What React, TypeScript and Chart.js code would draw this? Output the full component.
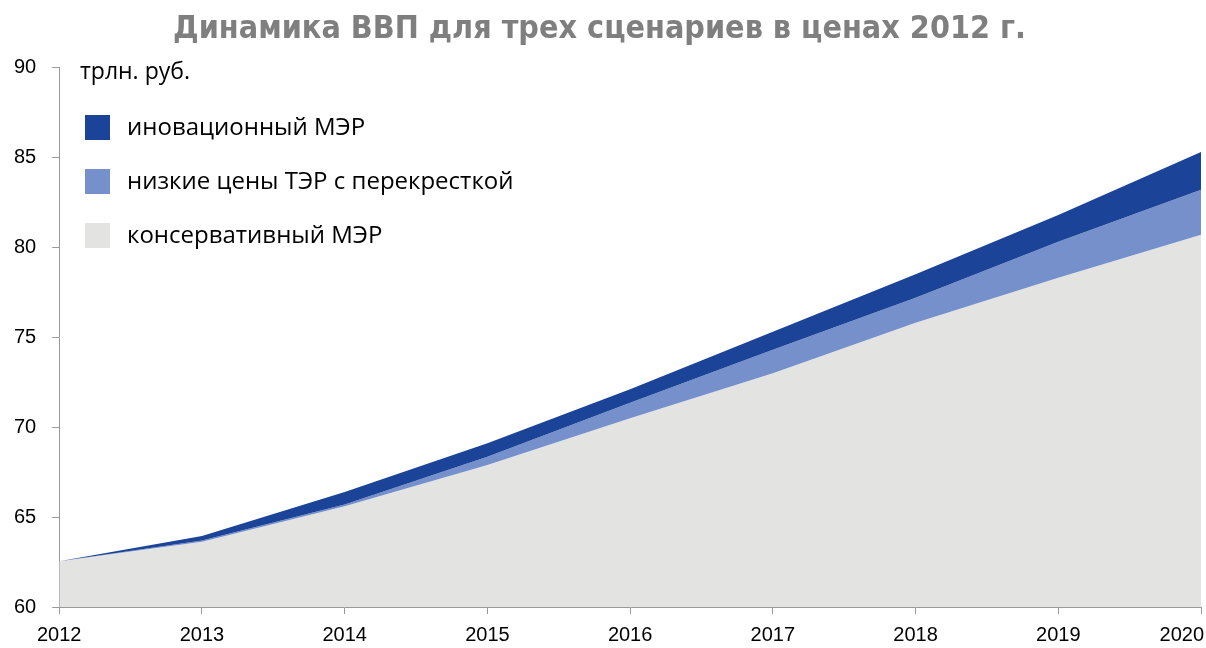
import React, { useEffect, useRef } from "react";
import { Chart, registerables } from "chart.js";

Chart.register(...registerables);

const years = ["2012", "2013", "2014", "2015", "2016", "2017", "2018", "2019", "2020"];
const innovative = [62.55, 63.95, 66.4, 69.1, 72.1, 75.3, 78.5, 81.8, 85.3];
const lowPrices = [62.55, 63.7, 65.7, 68.35, 71.35, 74.3, 77.2, 80.3, 83.2];
const conservative = [62.55, 63.63, 65.6, 67.9, 70.5, 73.0, 75.8, 78.3, 80.7];

const seriesNames = ["иновационный МЭР", "низкие цены ТЭР с перекресткой", "консервативный МЭР"];
const seriesColors = ["#1B4397", "#7590CB", "#E3E3E1"];
const unitLabel = "трлн. руб.";
const titleText = "Динамика ВВП для трех сценариев в ценах 2012 г.";

const FONT = "'Liberation Sans', Arial, sans-serif";
const LEGEND_FONT = "'Open Sans', 'Noto Sans', sans-serif";

const legendPlugin = {
  id: "customLegend",
  beforeDraw(chart: any) {
    const x = chart.scales.x;
    const items = x.getLabelItems();
    if (items && items.length) {
      const last = items[items.length - 1];
      last.options.textAlign = "right";
      last.options.translation[0] = chart.width - 2;
    }
  },
  afterDraw(chart: any) {
    const ctx = chart.ctx;
    ctx.save();
    ctx.textBaseline = "middle";
    ctx.textAlign = "left";
    ctx.fillStyle = "#000";
    ctx.font = `23px ${LEGEND_FONT}`;
    ctx.fillText(unitLabel, 80, 72);
    const rows = [127, 181, 235];
    ctx.font = `24px ${LEGEND_FONT}`;
    seriesNames.forEach((name, i) => {
      ctx.fillStyle = seriesColors[i];
      ctx.fillRect(85, rows[i] - 12, 25, 25);
      ctx.fillStyle = "#000";
      ctx.fillText(name, 127, rows[i] + 1);
    });
    ctx.restore();
  },
};

export default function App() {
  const ref = useRef<HTMLCanvasElement>(null);
  useEffect(() => {
    if (!ref.current) return;
    const chart = new Chart(ref.current, {
      type: "line",
      data: {
        labels: years,
        datasets: [
          {
            label: seriesNames[0],
            data: innovative,
            backgroundColor: seriesColors[0],
            borderWidth: 0,
            pointRadius: 0,
            fill: "+1",
            tension: 0,
          },
          {
            label: seriesNames[1],
            data: lowPrices,
            backgroundColor: seriesColors[1],
            borderWidth: 0,
            pointRadius: 0,
            fill: "+1",
            tension: 0,
          },
          {
            label: seriesNames[2],
            data: conservative,
            backgroundColor: seriesColors[2],
            borderWidth: 0,
            pointRadius: 0,
            fill: "start",
            tension: 0,
          },
        ],
      },
      options: {
        responsive: false,
        animation: false,
        layout: { padding: { left: -2, right: 5, top: 0, bottom: -8 } },
        plugins: {
          legend: { display: false },
          tooltip: { enabled: false },
          title: {
            display: true,
            text: titleText,
            color: "#7f7f7f",
            font: { family: "'Liberation Sans Narrow', 'DejaVu Sans Condensed', sans-serif", size: 32, weight: "bold" },
            padding: { top: 10, bottom: 19 },
          },
        },
        scales: {
          x: {
            type: "category",
            offset: false,
            grid: { display: true, drawOnChartArea: false, drawTicks: true, tickLength: 7, color: "#9a9a9a" },
            border: { display: true, color: "#9a9a9a" },
            ticks: { color: "#000", font: { family: FONT, size: 20 }, padding: 9, maxRotation: 0, autoSkip: false },
            afterFit(scale: any) {
              scale.paddingRight = 0;
            },
          },
          y: {
            min: 60,
            max: 90,
            grid: { display: true, drawOnChartArea: false, drawTicks: true, tickLength: 7, color: "#9a9a9a" },
            border: { display: true, color: "#9a9a9a" },
            ticks: { stepSize: 5, color: "#000", font: { family: FONT, size: 20 }, padding: 16 },
          },
        },
      },
      plugins: [legendPlugin],
    });
    return () => chart.destroy();
  }, []);
  return (
    <div style={{ position: "absolute", left: 0, top: 0, width: 1206, height: 648, background: "#fff" }}>
      <canvas ref={ref} width={1206} height={648} />
    </div>
  );
}
